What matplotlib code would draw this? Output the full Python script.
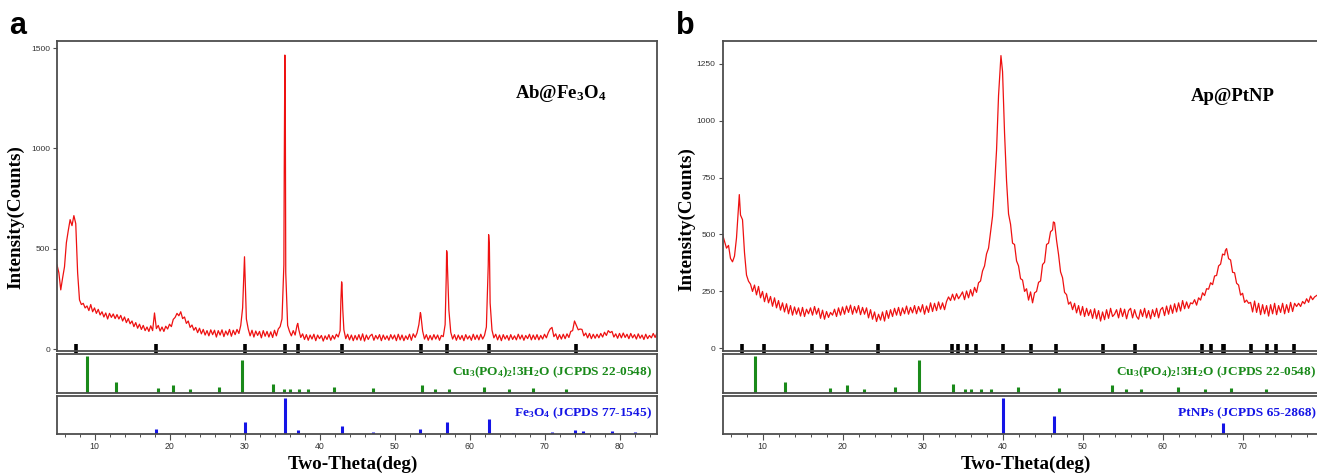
"""XRD patterns of Ab@Fe3O4 and Ap@PtNP with reference stick patterns."""

import numpy as np
import matplotlib
matplotlib.use('Agg')
import matplotlib.pyplot as plt
from matplotlib.ticker import MultipleLocator

W, H = 1317, 475

# ---------------- data ----------------
# panel a scan: counts on a 0.25 deg grid from 5 to 85 deg (one row = 2 deg)
scan_a_start = 5.0
scan_a = [
    420, 380, 295, 355, 410, 530, 590, 645,
    615, 665, 625, 380, 245, 222, 228, 205,
    215, 192, 222, 186, 205, 178, 198, 170,
    186, 160, 180, 150, 178, 158, 175, 152,
    172, 150, 168, 140, 160, 132, 152, 126,
    140, 112, 132, 104, 124, 98, 118, 92,
    110, 88, 116, 92, 180, 102, 118, 90,
    110, 88, 114, 100, 124, 112, 148, 158,
    178, 166, 186, 152, 160, 128, 140, 108,
    120, 94, 108, 82, 104, 76, 98, 70,
    92, 66, 96, 72, 94, 60, 92, 70,
    96, 62, 90, 70, 98, 64, 94, 72,
    98, 78, 118, 205, 460, 150, 100, 66,
    94, 60, 90, 68, 88, 56, 92, 64,
    88, 60, 86, 58, 94, 66, 100, 112,
    150, 420, 380, 118, 88, 66, 92, 70,
    118, 95, 58, 76, 48, 72, 44, 70,
    50, 74, 42, 70, 52, 68, 40, 66,
    48, 72, 44, 68, 50, 74, 60, 92,
    320, 96, 52, 74, 46, 70, 42, 68,
    46, 72, 44, 76, 40, 70, 48, 66,
    74, 44, 68, 50, 72, 42, 70, 48,
    66, 44, 72, 50, 70, 42, 74, 46,
    70, 42, 66, 48, 74, 44, 76, 58,
    80, 122, 175, 90, 50, 72, 44, 68,
    46, 72, 50, 70, 44, 68, 62, 122,
    480, 195, 84, 50, 72, 44, 70, 48,
    68, 42, 72, 50, 66, 44, 74, 48,
    70, 46, 74, 50, 68, 110, 420, 230,
    94, 56, 74, 46, 70, 42, 72, 50,
    68, 44, 72, 48, 66, 46, 74, 50,
    70, 44, 68, 52, 74, 46, 70, 48,
    72, 46, 68, 50, 74, 56, 82, 100,
    108, 62, 76, 48, 72, 50, 74, 52,
    76, 58, 88, 92, 140, 118, 96, 100,
    98, 66, 80, 56, 78, 52, 74, 54,
    74, 56, 78, 60, 84, 68, 92, 82,
    88, 60, 76, 54, 78, 56, 80, 58,
    74, 52, 78, 56, 72, 50, 76, 54,
    70, 48, 74, 52, 68, 56, 78, 58,
    80,
]
# extra points on the sharp peaks of panel a
apex_a_x = [35.3, 35.38, 35.45, 37.1, 42.85, 42.95, 43.1, 53.45, 56.9, 56.95, 57.05, 62.55, 62.65]
apex_a_y = [900, 1465, 1100, 128, 240, 335, 200, 182, 360, 490, 420, 570, 520]
marks_a = [7.5, 18.2, 30.0, 35.35, 37.1, 43.0, 53.5, 57.0, 62.6, 74.2]

# panel b scan: counts on a 0.25 deg grid from 5 to 79.5 deg
scan_b_start = 5.0
scan_b = [
    500, 470, 440, 452, 395, 380, 405, 485,
    620, 585, 565, 420, 322, 295, 282, 250,
    278, 235, 272, 222, 250, 205, 242, 200,
    228, 185, 222, 178, 210, 168, 200, 160,
    196, 152, 188, 146, 182, 150, 178, 142,
    180, 140, 172, 152, 178, 146, 184, 150,
    176, 132, 168, 128, 162, 136, 158, 146,
    172, 140, 178, 146, 182, 150, 186, 158,
    190, 150, 184, 156, 188, 148, 180, 150,
    178, 134, 170, 128, 160, 118, 150, 124,
    160, 120, 166, 132, 170, 140, 176, 146,
    180, 144, 178, 152, 186, 150, 180, 156,
    188, 152, 184, 160, 192, 150, 186, 158,
    200, 162, 198, 166, 204, 172, 200, 170,
    206, 226, 210, 238, 212, 240, 218, 232,
    248, 214, 252, 222, 258, 230, 268, 246,
    288, 296, 340, 362, 415, 440, 512, 580,
    715, 870, 1110, 1262, 1215, 945, 735, 590,
    545, 462, 456, 384, 362, 306, 300, 250,
    262, 212, 248, 200, 244, 250, 290, 296,
    368, 378, 456, 462, 512, 520, 552, 474,
    412, 336, 310, 246, 236, 194, 204, 170,
    198, 156, 188, 146, 184, 140, 176, 144,
    170, 132, 174, 130, 166, 120, 160, 126,
    170, 132, 176, 140, 150, 170, 134, 176,
    140, 172, 130, 166, 176, 134, 170, 140,
    128, 170, 140, 176, 134, 166, 130, 170,
    140, 176, 134, 170, 180, 144, 186, 150,
    190, 154, 196, 160, 200, 164, 210, 174,
    204, 176, 200, 196, 214, 190, 222, 212,
    244, 232, 262, 260, 288, 280, 318, 320,
    362, 370, 414, 410, 438, 394, 388, 334,
    332, 286, 278, 234, 242, 202, 212, 198,
    202, 160, 208, 158, 198, 148, 192, 152,
    188, 142, 192, 152, 198, 148, 188, 158,
    198, 152, 192, 158, 202, 162, 198, 184,
    198, 184, 206, 196, 218, 202, 230, 214,
    226, 232, 238,
]
apex_b_x = [7.1, 39.8, 46.35, 67.85]
apex_b_y = [675, 1285, 555, 430]
marks_b = [7.4, 10.2, 16.2, 18.0, 24.4, 33.7, 34.4, 35.6, 36.7, 40.0, 43.5, 46.7,
           52.5, 56.6, 64.9, 66.1, 67.5, 67.7, 71.1, 73.1, 74.2, 76.4]

# reference patterns (relative intensity)
cu_pos = [9.0, 12.8, 18.4, 20.5, 22.7, 26.6, 29.6, 33.8, 35.3, 36.0, 37.3, 38.5,
          41.9, 47.1, 53.7, 55.4, 57.3, 61.9, 65.3, 68.5, 72.9]
cu_int = [100, 28, 14, 20, 9, 16, 89, 24, 9, 9, 9, 9, 15, 14, 21, 9, 9, 16, 9, 14, 9]
fe_pos = [18.2, 30.1, 35.4, 37.1, 43.0, 47.1, 53.4, 57.0, 62.6, 65.8, 71.0, 74.1, 75.1, 79.0, 82.0]
fe_int = [14, 32, 100, 11, 23, 5, 13, 32, 41, 4, 5, 11, 7, 7, 5]
pt_pos = [40.0, 46.4, 67.6]
pt_int = [100, 49, 29]

# ---------------- style ----------------
plt.rcParams['mathtext.fontset'] = 'custom'
plt.rcParams['mathtext.rm'] = 'Liberation Serif:bold'
plt.rcParams['mathtext.it'] = 'Liberation Serif:bold'
plt.rcParams['mathtext.bf'] = 'Liberation Serif:bold'

SPINE = '#4d4d4d'
SERIF = 'Liberation Serif'
GREEN = '#1a8a1a'
BLUE = '#1414e6'

fig = plt.figure(figsize=(W / 100, H / 100), dpi=100)


def px_axes(left, top, right, bottom):
    """Add an axes given its pixel box (origin top-left)."""
    return fig.add_axes([left / W, 1 - bottom / H, (right - left) / W, (bottom - top) / H])


def style_box(ax):
    for s in ax.spines.values():
        s.set_color(SPINE)
        s.set_linewidth(1.3)


def scan_xy(start, values, apex_x, apex_y):
    x = np.concatenate([start + 0.25 * np.arange(len(values)), apex_x])
    y = np.concatenate([np.asarray(values, float), apex_y])
    order = np.argsort(x, kind='stable')
    return x[order], y[order]


def draw_panel(left, right, xlim, scan_start, scan, apex_x, apex_y, ylim, ystep,
               marks, sample, sample_xy, ref_pos, ref_int, ref_color, ref_label):
    # main scan
    ax = px_axes(left, 41, right, 350.7)
    x, y = scan_xy(scan_start, scan, apex_x, apex_y)
    ax.plot(x, y, color='#ee1111', lw=0.9)
    ax.vlines(marks, -0.006, 0.022, color='black', lw=2.6,
              transform=ax.get_xaxis_transform(), clip_on=False)
    ax.set_xlim(*xlim)
    ax.set_ylim(*ylim)
    ax.yaxis.set_major_locator(MultipleLocator(ystep))
    ax.set_xticks([])
    ax.tick_params(axis='y', direction='out', length=3, width=0.8, color=SPINE,
                   labelsize=6, labelcolor='#333333', pad=2)
    for lab in ax.get_yticklabels():
        lab.set_fontfamily('Liberation Sans')
    style_box(ax)
    ax.text(*sample_xy, sample, transform=ax.transAxes, ha='center', va='center',
            fontsize=13.5, fontfamily=SERIF, fontweight='bold')

    # Cu3(PO4)2.3H2O reference
    ax_cu = px_axes(left, 354, right, 392.7)
    ax_cu.vlines(cu_pos, 0, cu_int, color=GREEN, lw=2.2)
    ax_cu.set_xlim(*xlim)
    ax_cu.set_ylim(0, 105)
    ax_cu.set_xticks([])
    ax_cu.set_yticks([])
    style_box(ax_cu)
    ax_cu.text(1 - 5 / (right - left), 0.52, 'Cu$_3$(PO$_4$)$_2$!3H$_2$O (JCPDS 22-0548)',
               transform=ax_cu.transAxes, ha='right', va='center', color=GREEN,
               fontsize=9.6, fontfamily=SERIF, fontweight='bold')

    # second reference
    ax_r = px_axes(left, 395.7, right, 434)
    ax_r.vlines(ref_pos, 0, ref_int, color=ref_color, lw=2.2)
    ax_r.set_xlim(*xlim)
    ax_r.set_ylim(0, 105)
    ax_r.set_yticks([])
    ax_r.xaxis.set_major_locator(MultipleLocator(10))
    ax_r.xaxis.set_minor_locator(MultipleLocator(2))
    ax_r.tick_params(axis='x', which='major', direction='out', length=4, width=0.8,
                     color=SPINE, labelsize=6.3, labelcolor='#333333', pad=2)
    ax_r.tick_params(axis='x', which='minor', direction='out', length=2.5, width=0.7,
                     color=SPINE)
    for lab in ax_r.get_xticklabels():
        lab.set_fontfamily('Liberation Sans')
    style_box(ax_r)
    ax_r.text(1 - 5 / (right - left), 0.54, ref_label, transform=ax_r.transAxes,
              ha='right', va='center', color=ref_color,
              fontsize=9.6, fontfamily=SERIF, fontweight='bold')


draw_panel(57, 657, (5, 85), scan_a_start, scan_a, apex_a_x, apex_a_y, (-8, 1535), 500,
           marks_a, 'Ab@Fe$_3$O$_4$', (0.84, 0.83), fe_pos, fe_int, BLUE,
           'Fe$_3$O$_4$ (JCPDS 77-1545)')
draw_panel(722.5, 1321, (5, 79.8), scan_b_start, scan_b, apex_b_x, apex_b_y, (-10, 1349), 250,
           marks_b, 'Ap@PtNP', (0.852, 0.82), pt_pos, pt_int, BLUE,
           'PtNPs (JCPDS 65-2868)')

# axis titles and panel letters
for xc, yc in [(16, 217), (687, 219)]:
    fig.text(xc / W, 1 - yc / H, 'Intensity(Counts)', rotation=90, ha='center', va='center',
             fontsize=13.8, fontfamily=SERIF, fontweight='bold')
for xc in (353, 1026):
    fig.text(xc / W, 1 - 464 / H, 'Two-Theta(deg)', ha='center', va='center',
             fontsize=13.8, fontfamily=SERIF, fontweight='bold')
fig.text(9 / W, 1 - 34 / H, 'a', ha='left', va='baseline', fontsize=22,
         fontfamily='Liberation Sans', fontweight='bold')
fig.text(676 / W, 1 - 34 / H, 'b', ha='left', va='baseline', fontsize=22,
         fontfamily='Liberation Sans', fontweight='bold')

fig.savefig('out.png', dpi=100)
